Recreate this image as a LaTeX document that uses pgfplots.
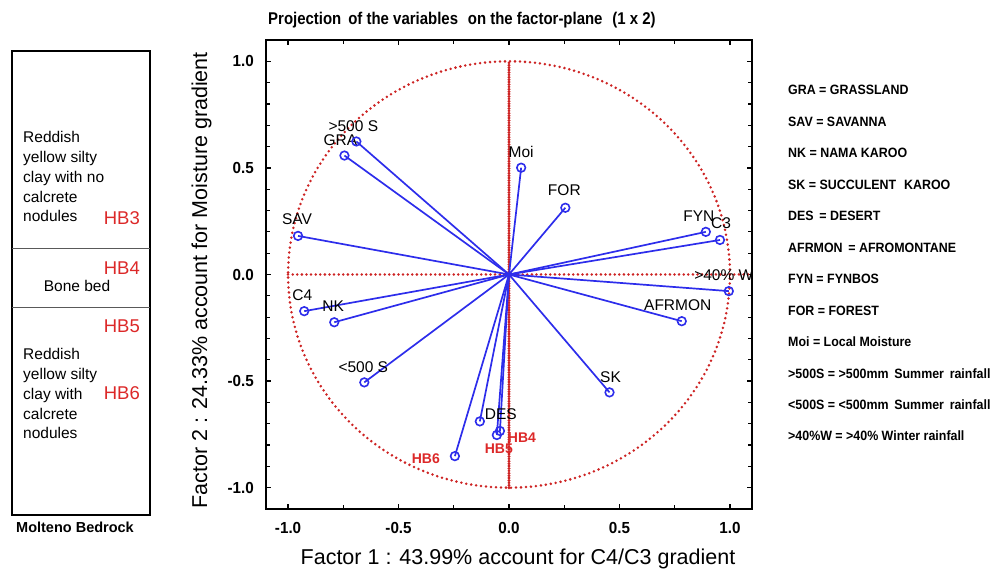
\documentclass[border=0pt]{standalone}
\usepackage{fontspec}
\setmainfont{Liberation Sans}
\newfontfamily\titlefont[FakeStretch=0.88]{Liberation Sans}
\newfontfamily\legfont[FakeStretch=0.92]{Liberation Sans}
\newfontfamily\tickfont[FakeStretch=0.95]{Liberation Sans}
\usepackage{pgfplots}
\pgfplotsset{compat=1.18}
\usepackage{pgfplotstable}
\definecolor{vecblue}{RGB}{45,45,235}
\definecolor{dotred}{RGB}{205,35,35}
\definecolor{hbred}{RGB}{220,40,40}
\newcommand\fs[1]{\fontsize{#1}{#1}\selectfont}

% factor loadings (Factor 1, Factor 2)
\pgfplotstableread{
x y
-0.691 0.624
-0.745 0.558
0.055 0.501
0.255 0.313
-0.955 0.181
0.891 0.200
0.955 0.162
0.995 -0.078
-0.927 -0.172
-0.791 -0.224
0.782 -0.219
-0.655 -0.506
0.455 -0.553
-0.132 -0.689
-0.041 -0.734
-0.055 -0.753
-0.245 -0.852
}\loadings

\newcommand\lbl[5]{\node[anchor=base,inner sep=0pt,xshift=#3pt,yshift=#4pt,font=\fs{15.5}] at (axis cs:#1,#2) {#5};}
\newcommand\hbl[5]{\node[anchor=base,inner sep=0pt,xshift=#3pt,yshift=#4pt,text=hbred,font=\bfseries\fs{14}] at (axis cs:#1,#2) {#5};}

\begin{document}
\begin{tikzpicture}
\useasboundingbox (0pt,0pt) rectangle (993pt,572pt);
\begin{axis}[
  at={(266pt,63pt)}, anchor=south west,
  scale only axis, width=486pt, height=469pt,
  xmin=-1.1, xmax=1.1, ymin=-1.1, ymax=1.1,
  clip=false,
  axis line style={line width=1.8pt},
  xtick={-1,-0.5,0,0.5,1}, ytick={-1,-0.5,0,0.5,1},
  minor x tick num=1, minor y tick num=4,
  tick align=inside, major tick length=5pt, minor tick length=4pt,
  every tick/.style={black, line width=1.2pt},
  ticklabel style={font=\tickfont\bfseries\fs{16}},
  xticklabel style={anchor=north, inner sep=0pt, yshift=-13pt},
  yticklabel style={anchor=east, inner sep=0pt, xshift=-12pt},
  /pgf/number format/fixed, /pgf/number format/fixed zerofill,
  /pgf/number format/precision=1, /pgf/number format/assume math mode=true,
  xlabel={Factor 1 : 43.99\% account for C4/C3 gradient},
  xlabel style={at={(axis description cs:0.5185,-0.1194)}, anchor=base, inner sep=0pt, font=\fs{21.5}},
  ylabel={Factor 2 : 24.33\% account for Moisture gradient},
  ylabel style={at={(axis description cs:-0.121,0.488)}, anchor=base, inner sep=0pt, font=\fs{21.5}},
]
\draw[dotred, line width=2.8pt, line cap=round, dash pattern=on 0pt off 5pt] (axis cs:0,0) ellipse [x radius=1, y radius=1];
\draw[dotred, line width=2.8pt, line cap=round, dash pattern=on 0pt off 4.6pt] (axis cs:-1,0) -- (axis cs:1.1,0);
\draw[dotred, line width=3.2pt, line cap=round, dash pattern=on 0pt off 2.4pt] (axis cs:0,-1) -- (axis cs:0,1);

\addplot[vecblue, line width=1.7pt, quiver={u=\thisrow{x}, v=\thisrow{y}}] table[x expr=0, y expr=0] {\loadings};
\addplot[only marks, mark=o, mark size=4.3pt, vecblue, mark options={line width=1.6pt}] table[x=x, y=y] {\loadings};

\lbl{-0.691}{0.624}{-3}{10}{>500 S}
\lbl{-0.745}{0.558}{-4}{10}{GRA}
\lbl{0.055}{0.501}{0}{10}{Moi}
\lbl{0.255}{0.313}{-1}{12}{FOR}
\lbl{-0.955}{0.181}{-1}{11}{SAV}
\lbl{0.891}{0.200}{-7}{10}{FYN}
\lbl{0.955}{0.162}{1}{11}{C3}
\lbl{0.995}{-0.078}{-5}{11}{>40\% W}
\lbl{-0.927}{-0.172}{-2}{11}{C4}
\lbl{-0.791}{-0.224}{-1}{11}{NK}
\lbl{0.782}{-0.219}{-4}{11}{AFRMON}
\lbl{-0.655}{-0.506}{-1}{10}{<500 S}
\lbl{0.455}{-0.553}{1}{10}{SK}
\lbl{-0.132}{-0.689}{21}{2}{DES}
\hbl{-0.041}{-0.734}{22}{-12}{HB4}
\hbl{-0.055}{-0.753}{2}{-18}{HB5}
\hbl{-0.245}{-0.852}{-29}{-7}{HB6}
\end{axis}

% title
\node[anchor=base west, inner sep=0pt, font=\titlefont\bfseries\fs{17}] at (268pt,547pt) {Projection\, of the variables\,\, on the factor-plane\,\, (1 x 2)};

% stratigraphic column
\draw[line width=1.8pt] (12pt,57pt) rectangle (150pt,521pt);
\draw[black!65, line width=1pt] (12pt,323pt) -- (150pt,323pt);
\draw[black!65, line width=1pt] (12pt,264pt) -- (150pt,264pt);
\begin{scope}[every node/.style={inner sep=0pt, font=\fs{15.5}}]
\node[anchor=base west] at (23pt,429pt) {Reddish};
\node[anchor=base west] at (23pt,409pt) {yellow silty};
\node[anchor=base west] at (23pt,389pt) {clay with no};
\node[anchor=base west] at (23pt,369pt) {calcrete};
\node[anchor=base west] at (23pt,350pt) {nodules};
\node[anchor=base] at (77pt,280pt) {Bone bed};
\node[anchor=base west] at (23pt,212pt) {Reddish};
\node[anchor=base west] at (23pt,192pt) {yellow silty};
\node[anchor=base west] at (23pt,172pt) {clay with};
\node[anchor=base west] at (23pt,152pt) {calcrete};
\node[anchor=base west] at (23pt,133pt) {nodules};
\end{scope}
\begin{scope}[every node/.style={inner sep=0pt, anchor=base east, text=hbred, font=\fs{18.5}}]
\node at (140pt,347pt) {HB3};
\node at (140pt,297pt) {HB4};
\node at (140pt,239pt) {HB5};
\node at (140pt,172pt) {HB6};
\end{scope}
\node[anchor=base, inner sep=0pt, font=\bfseries\fs{14.5}] at (75pt,39pt) {Molteno Bedrock};

% legend of abbreviations
\begin{scope}[every node/.style={inner sep=0pt, anchor=base west, font=\legfont\bfseries\fs{13.5}}]
\node at (788pt,477.00pt) {GRA = GRASSLAND};
\node at (788pt,445.55pt) {SAV = SAVANNA};
\node at (788pt,414.10pt) {NK = NAMA KAROO};
\node at (788pt,382.65pt) {SK = SUCCULENT\,\, KAROO};
\node at (788pt,351.20pt) {DES\, = DESERT};
\node at (788pt,319.75pt) {AFRMON\, = AFROMONTANE};
\node at (788pt,288.30pt) {FYN = FYNBOS};
\node at (788pt,256.85pt) {FOR = FOREST};
\node at (788pt,225.40pt) {Moi = Local Moisture};
\node at (788pt,193.95pt) {>500S = >500mm\, Summer\, rainfall};
\node at (788pt,162.50pt) {<500S = <500mm\, Summer\, rainfall};
\node at (788pt,131.05pt) {>40\%W = >40\% Winter rainfall};
\end{scope}
\end{tikzpicture}
\end{document}
